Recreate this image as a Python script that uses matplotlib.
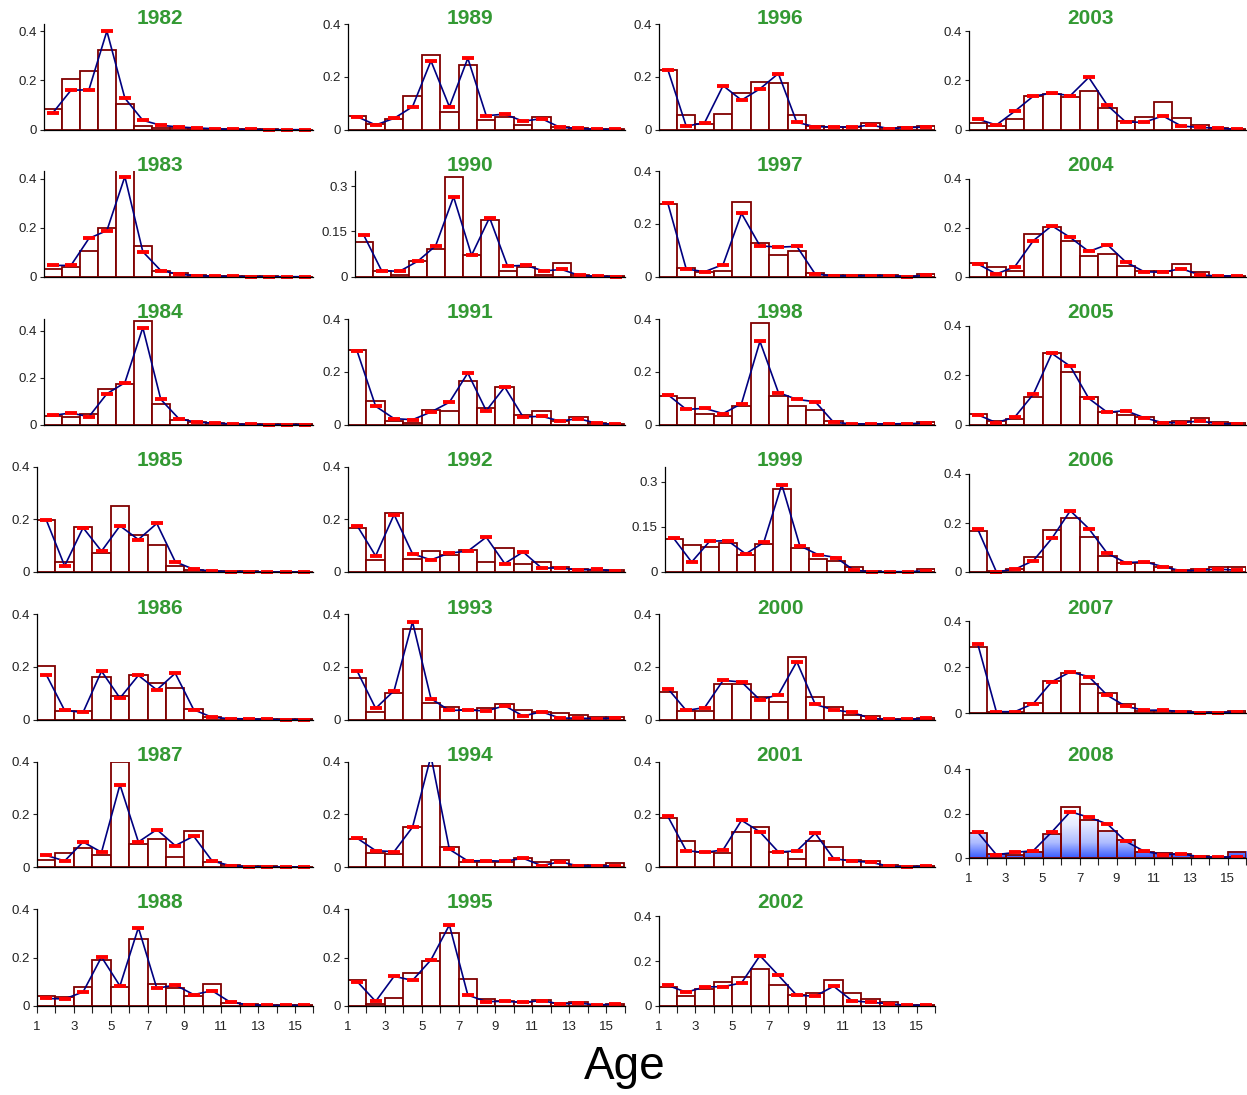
import numpy as np
import matplotlib.pyplot as plt
from matplotlib.transforms import Bbox, TransformedBbox
from matplotlib.colors import LinearSegmentedColormap

plt.rcParams['font.family'] = ['Liberation Sans', 'DejaVu Sans']

ages = np.arange(1, 16)
age_ticks = np.arange(1, 17)
age_labels = ['1', '', '3', '', '5', '', '7', '', '9', '', '11', '', '13', '', '15', '']

# observed proportions at age (bars) and fitted (line + red marks)
obs_1982 = [0.085, 0.205, 0.24, 0.323, 0.106, 0.015, 0.008, 0.005, 0.003, 0.002, 0.001, 0.001, 0.001, 0.0, 0.0]
fit_1982 = [0.069, 0.16, 0.162, 0.40, 0.128, 0.038, 0.018, 0.011, 0.007, 0.004, 0.001, 0.001, 0.0, 0.0, 0.0]
obs_1983 = [0.030, 0.041, 0.106, 0.199, 0.435, 0.127, 0.025, 0.014, 0.005, 0.002, 0.002, 0.001, 0.001, 0.0, 0.0]
fit_1983 = [0.046, 0.046, 0.156, 0.188, 0.408, 0.102, 0.025, 0.010, 0.004, 0.002, 0.001, 0.0, 0.0, 0.0, 0.0]
obs_1984 = [0.037, 0.033, 0.044, 0.151, 0.174, 0.443, 0.087, 0.020, 0.011, 0.006, 0.003, 0.002, 0.001, 0.001, 0.001]
fit_1984 = [0.040, 0.050, 0.034, 0.132, 0.179, 0.414, 0.108, 0.026, 0.010, 0.007, 0.003, 0.001, 0.0, 0.0, 0.0]
obs_1985 = [0.199, 0.037, 0.169, 0.072, 0.249, 0.141, 0.103, 0.022, 0.008, 0.004, 0.003, 0.002, 0.001, 0.001, 0.001]
fit_1985 = [0.198, 0.023, 0.168, 0.079, 0.175, 0.123, 0.184, 0.039, 0.010, 0.004, 0.001, 0.001, 0.0, 0.0, 0.0]
obs_1986 = [0.205, 0.033, 0.034, 0.163, 0.091, 0.170, 0.139, 0.120, 0.042, 0.009, 0.004, 0.003, 0.002, 0.001, 0.001]
fit_1986 = [0.171, 0.035, 0.028, 0.184, 0.082, 0.168, 0.113, 0.176, 0.038, 0.009, 0.004, 0.003, 0.001, 0.0, 0.0]
obs_1987 = [0.025, 0.052, 0.071, 0.044, 0.400, 0.089, 0.107, 0.039, 0.135, 0.020, 0.006, 0.005, 0.002, 0.001, 0.001]
fit_1987 = [0.044, 0.023, 0.095, 0.056, 0.312, 0.095, 0.142, 0.081, 0.117, 0.023, 0.005, 0.001, 0.0, 0.0, 0.0]
obs_1988 = [0.040, 0.036, 0.076, 0.190, 0.079, 0.275, 0.089, 0.072, 0.040, 0.091, 0.011, 0.006, 0.003, 0.001, 0.001]
fit_1988 = [0.030, 0.028, 0.057, 0.202, 0.082, 0.324, 0.072, 0.086, 0.046, 0.062, 0.014, 0.004, 0.001, 0.001, 0.001]
obs_1989 = [0.053, 0.021, 0.040, 0.129, 0.285, 0.066, 0.244, 0.038, 0.047, 0.019, 0.049, 0.009, 0.006, 0.003, 0.001]
fit_1989 = [0.049, 0.018, 0.043, 0.087, 0.261, 0.087, 0.271, 0.053, 0.059, 0.032, 0.042, 0.009, 0.005, 0.001, 0.001]
obs_1990 = [0.115, 0.020, 0.004, 0.051, 0.091, 0.331, 0.073, 0.188, 0.020, 0.033, 0.006, 0.046, 0.004, 0.001, 0.001]
fit_1990 = [0.139, 0.020, 0.018, 0.051, 0.102, 0.265, 0.071, 0.196, 0.035, 0.038, 0.019, 0.024, 0.004, 0.001, 0.0]
obs_1991 = [0.284, 0.090, 0.013, 0.008, 0.054, 0.053, 0.167, 0.065, 0.144, 0.037, 0.051, 0.015, 0.028, 0.005, 0.003]
fit_1991 = [0.278, 0.070, 0.023, 0.019, 0.048, 0.085, 0.196, 0.053, 0.143, 0.029, 0.032, 0.014, 0.023, 0.005, 0.001]
obs_1992 = [0.165, 0.044, 0.222, 0.051, 0.081, 0.066, 0.084, 0.039, 0.090, 0.032, 0.039, 0.019, 0.011, 0.008, 0.009]
fit_1992 = [0.175, 0.061, 0.218, 0.069, 0.046, 0.072, 0.079, 0.132, 0.032, 0.076, 0.015, 0.015, 0.008, 0.010, 0.004]
obs_1993 = [0.158, 0.030, 0.100, 0.344, 0.065, 0.048, 0.037, 0.044, 0.061, 0.037, 0.030, 0.024, 0.016, 0.011, 0.011]
fit_1993 = [0.184, 0.043, 0.110, 0.371, 0.080, 0.035, 0.037, 0.033, 0.053, 0.014, 0.030, 0.006, 0.006, 0.004, 0.006]
obs_1994 = [0.108, 0.053, 0.051, 0.151, 0.382, 0.074, 0.018, 0.020, 0.020, 0.034, 0.018, 0.028, 0.009, 0.006, 0.015]
fit_1994 = [0.109, 0.062, 0.058, 0.151, 0.42, 0.067, 0.023, 0.024, 0.022, 0.033, 0.005, 0.020, 0.004, 0.004, 0.004]
obs_1995 = [0.108, 0.008, 0.033, 0.134, 0.185, 0.303, 0.111, 0.026, 0.021, 0.015, 0.024, 0.012, 0.015, 0.004, 0.007]
fit_1995 = [0.100, 0.018, 0.122, 0.105, 0.190, 0.335, 0.044, 0.017, 0.018, 0.014, 0.021, 0.007, 0.011, 0.003, 0.006]
obs_1996 = [0.228, 0.056, 0.020, 0.059, 0.138, 0.180, 0.178, 0.057, 0.015, 0.011, 0.010, 0.024, 0.005, 0.011, 0.014]
fit_1996 = [0.228, 0.013, 0.027, 0.167, 0.112, 0.155, 0.213, 0.028, 0.011, 0.011, 0.009, 0.018, 0.004, 0.008, 0.010]
obs_1997 = [0.276, 0.034, 0.019, 0.022, 0.284, 0.126, 0.083, 0.099, 0.015, 0.005, 0.005, 0.005, 0.005, 0.001, 0.011]
fit_1997 = [0.279, 0.029, 0.019, 0.046, 0.240, 0.117, 0.112, 0.115, 0.010, 0.003, 0.003, 0.004, 0.004, 0.0, 0.005]
obs_1998 = [0.108, 0.101, 0.041, 0.032, 0.070, 0.386, 0.109, 0.072, 0.054, 0.015, 0.003, 0.003, 0.001, 0.003, 0.009]
fit_1998 = [0.114, 0.058, 0.062, 0.042, 0.080, 0.316, 0.122, 0.096, 0.087, 0.009, 0.003, 0.003, 0.003, 0.004, 0.006]
obs_1999 = [0.111, 0.091, 0.082, 0.097, 0.057, 0.094, 0.277, 0.078, 0.044, 0.038, 0.017, 0.002, 0.001, 0.001, 0.010]
fit_1999 = [0.112, 0.033, 0.102, 0.104, 0.060, 0.098, 0.290, 0.087, 0.058, 0.048, 0.006, 0.001, 0.001, 0.001, 0.004]
obs_2000 = [0.104, 0.033, 0.033, 0.135, 0.137, 0.085, 0.066, 0.237, 0.087, 0.047, 0.019, 0.015, 0.004, 0.003, 0.005]
fit_2000 = [0.118, 0.035, 0.046, 0.149, 0.143, 0.075, 0.095, 0.220, 0.058, 0.037, 0.028, 0.005, 0.001, 0.001, 0.005]
obs_2001 = [0.184, 0.100, 0.055, 0.053, 0.131, 0.150, 0.057, 0.032, 0.100, 0.074, 0.028, 0.022, 0.008, 0.003, 0.004]
fit_2001 = [0.192, 0.062, 0.055, 0.065, 0.177, 0.133, 0.057, 0.061, 0.128, 0.032, 0.022, 0.018, 0.003, 0.0, 0.003]
obs_2002 = [0.082, 0.042, 0.075, 0.105, 0.127, 0.163, 0.091, 0.048, 0.058, 0.116, 0.055, 0.030, 0.015, 0.003, 0.001]
fit_2002 = [0.091, 0.060, 0.084, 0.085, 0.102, 0.224, 0.136, 0.046, 0.043, 0.087, 0.022, 0.015, 0.009, 0.001, 0.003]
obs_2003 = [0.028, 0.015, 0.042, 0.138, 0.145, 0.132, 0.156, 0.087, 0.037, 0.053, 0.111, 0.046, 0.018, 0.005, 0.001]
fit_2003 = [0.043, 0.019, 0.075, 0.136, 0.148, 0.138, 0.212, 0.099, 0.031, 0.030, 0.056, 0.015, 0.009, 0.007, 0.001]
obs_2004 = [0.054, 0.038, 0.022, 0.173, 0.201, 0.147, 0.084, 0.092, 0.044, 0.024, 0.024, 0.050, 0.020, 0.003, 0.001]
fit_2004 = [0.052, 0.011, 0.041, 0.147, 0.208, 0.160, 0.103, 0.131, 0.060, 0.020, 0.018, 0.033, 0.007, 0.003, 0.003]
obs_2005 = [0.044, 0.015, 0.023, 0.110, 0.291, 0.214, 0.113, 0.050, 0.039, 0.030, 0.009, 0.016, 0.028, 0.011, 0.005]
fit_2005 = [0.040, 0.008, 0.031, 0.123, 0.288, 0.236, 0.106, 0.050, 0.057, 0.028, 0.008, 0.008, 0.015, 0.004, 0.003]
obs_2006 = [0.166, 0.005, 0.011, 0.063, 0.170, 0.219, 0.144, 0.067, 0.038, 0.035, 0.019, 0.007, 0.014, 0.019, 0.019]
fit_2006 = [0.174, 0.001, 0.011, 0.046, 0.137, 0.250, 0.177, 0.076, 0.038, 0.042, 0.022, 0.005, 0.007, 0.012, 0.007]
obs_2007 = [0.289, 0.006, 0.007, 0.043, 0.142, 0.173, 0.126, 0.090, 0.039, 0.010, 0.009, 0.009, 0.006, 0.004, 0.012]
fit_2007 = [0.299, 0.007, 0.007, 0.042, 0.137, 0.179, 0.159, 0.078, 0.030, 0.013, 0.014, 0.007, 0.003, 0.003, 0.006]
obs_2008 = [0.111, 0.016, 0.013, 0.028, 0.106, 0.228, 0.171, 0.120, 0.079, 0.027, 0.024, 0.019, 0.007, 0.003, 0.028]
fit_2008 = [0.115, 0.015, 0.025, 0.033, 0.117, 0.208, 0.183, 0.153, 0.075, 0.030, 0.015, 0.018, 0.006, 0.003, 0.006]

years = list(range(1982, 2009))
obs = {y: globals()[f'obs_{y}'] for y in years}
fit = {y: globals()[f'fit_{y}'] for y in years}

# per-panel axis scale (what the original charts used)
ymax = {1982: 0.428, 1983: 0.43, 1984: 0.45, 1990: 0.35, 1999: 0.35}
yticks = {1990: [0, 0.15, 0.3], 1999: [0, 0.15, 0.3]}

# layout in pixels
W, H = 1247, 1095
col_left = [44, 348, 658.6, 968.6]
col_right = [313.5, 624.5, 935, 1246]
left_fix = {1985: 37, 1986: 37, 1987: 37, 1988: 37, 1990: 354.6, 1999: 664.6}
row_zero = [129.7, 276.7, 424.7, 572, 719.7, 867, 1005.7]
row_h = [105.5] * 6 + [96.4]
col3_zero = [129.7, 276.7, 424.7, 572, 713.3, 858]
col3_h = [98.7, 98, 99, 98, 92.3, 89]
title_x = [160, 470, 780, 1090]
bottom_row = {1988, 1995, 2002, 2008}

blue_grad = LinearSegmentedColormap.from_list(
    'bg', [(0, '#3a5cff'), (0.3, '#aebcff'), (0.65, '#e6eaff'), (1, '#ffffff')])

fig = plt.figure(figsize=(W / 100, H / 100), dpi=100)

for y in years:
    c, r = divmod(y - 1982, 7)
    x0 = left_fix.get(y, col_left[c])
    x1 = col_right[c]
    if c == 3:
        z, h = col3_zero[r], col3_h[r]
    else:
        z, h = row_zero[r], row_h[r]
    if y == 2002:
        h = 89.4
    ax = fig.add_axes([x0 / W, 1 - z / H, (x1 - x0) / W, h / H])

    if y == 2008:
        for a, v in zip(ages, obs[y]):
            ax.imshow(np.linspace(v, 0, 60).reshape(-1, 1), extent=(a, a + 1, 0, v),
                      cmap=blue_grad, vmin=0, vmax=0.23, aspect='auto', zorder=1)
        ax.bar(ages, obs[y], width=1, align='edge', facecolor='none',
               edgecolor='#800000', linewidth=1.3, zorder=2)
    else:
        ax.bar(ages, obs[y], width=1, align='edge', facecolor='white',
               edgecolor='#800000', linewidth=1.3, zorder=2)

    ax.plot(ages + 0.5, fit[y], color='#000080', lw=1.2, zorder=4)
    mk, = ax.plot(ages + 0.5, fit[y], ls='none', marker='_', ms=8.6, mew=2.8,
                  color='#ff0000', zorder=5, clip_on=False)
    mk.set_clip_box(TransformedBbox(Bbox([[-0.1, -0.2], [1.1, 1.0]]), ax.transAxes))
    mk.set_clip_on(True)

    ax.set_xlim(1, 16)
    top = ymax.get(y, 0.4)
    ax.set_ylim(0, top)
    yt = yticks.get(y, [0, 0.2, 0.4])
    ax.set_yticks(yt)
    ax.set_yticklabels([f'{t:g}' for t in yt])
    for s in ['top', 'right']:
        ax.spines[s].set_visible(False)
    for s in ['left', 'bottom']:
        ax.spines[s].set_linewidth(0.9)
        ax.spines[s].set_color('black')
        ax.spines[s].set_zorder(6)
    ax.tick_params(axis='y', length=3, width=0.8, labelsize=9.5, pad=2, colors='#222222')
    if y in bottom_row:
        ax.set_xticks(age_ticks)
        ax.set_xticklabels(age_labels)
        ax.tick_params(axis='x', length=5, width=0.8, labelsize=9.5, pad=6, colors='#222222')
    else:
        ax.set_xticks([])

    fig.text(title_x[c] / W, 1 - (18 + 147.5 * r) / H, str(y), ha='center', va='center',
             color='#339933', fontsize=15, fontweight='bold')

fig.text(625 / W, 1 - 1067 / H, 'Age', ha='center', va='center', fontsize=33)

fig.savefig('out.png', dpi=100)
